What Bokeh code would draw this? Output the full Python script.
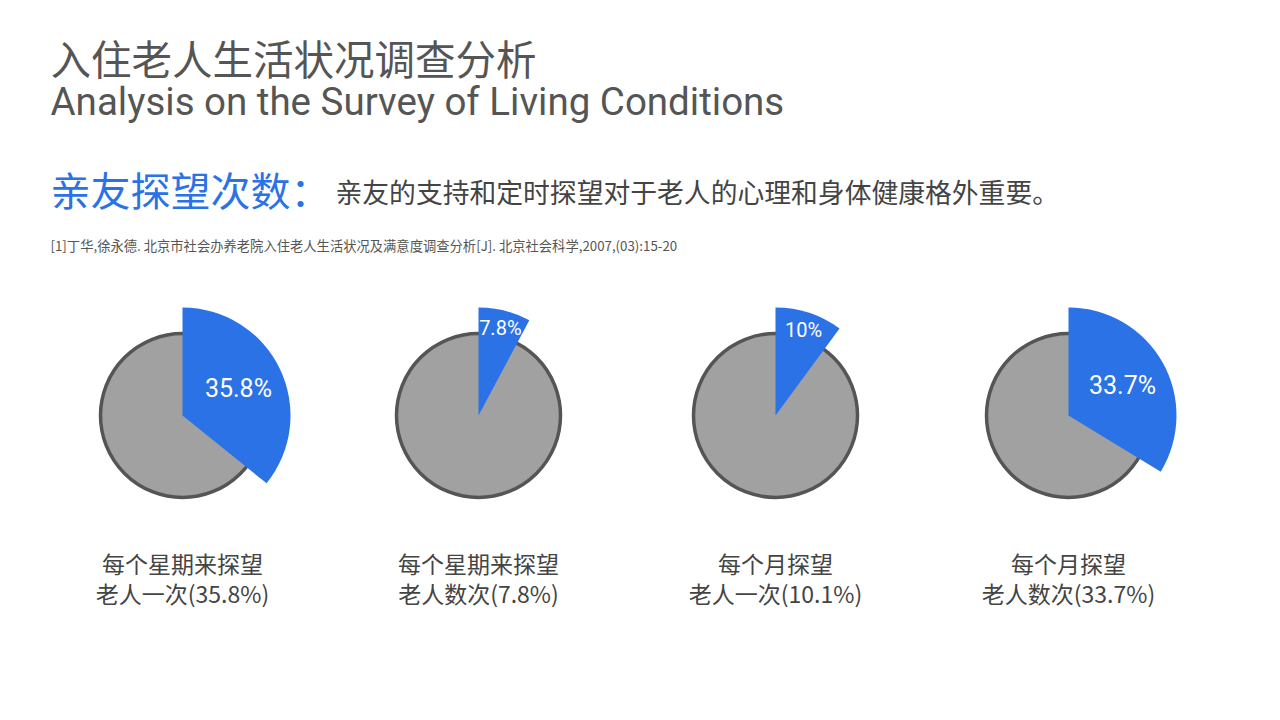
import math
from bokeh.plotting import figure
from bokeh.models import Range1d
from bokeh.core.properties import value
from bokeh.embed import file_html
from bokeh.resources import INLINE

# ---- data ----
title_cn = "入住老人生活状况调查分析"
title_en = "Analysis on the Survey of Living Conditions"
section_title = "亲友探望次数："
section_text = "亲友的支持和定时探望对于老人的心理和身体健康格外重要。"
citation = "[1]丁华,徐永德. 北京市社会办养老院入住老人生活状况及满意度调查分析[J]. 北京社会科学,2007,(03):15-20"
cat_line1 = ["每个星期来探望", "每个星期来探望", "每个月探望", "每个月探望"]
cat_line2 = ["老人一次", "老人数次", "老人一次", "老人数次"]
values = [35.8, 7.8, 10.1, 33.7]
wedge_labels = ["35.8%", "7.8%", "10%", "33.7%"]

# ---- layout ----
W, H = 1280, 720
cx = [182, 478, 775, 1068]
cy_px = 415
r_base = 82
r_wedge = 108
BLUE = "#2b72e6"
GRAY = "#a1a1a1"
EDGE = "#555555"
CJK = "Noto Sans CJK SC"

def Y(py):
    return H - py

p = figure(width=W, height=H, x_range=Range1d(0, W), y_range=Range1d(0, H),
           output_backend="svg", toolbar_location=None, min_border=0)
p.axis.visible = False
p.grid.visible = False
p.outline_line_color = None
p.background_fill_color = "white"
p.border_fill_color = "white"

cys = [Y(cy_px)] * 4
p.circle(x=cx, y=cys, radius=r_base, radius_units="data", fill_color=GRAY,
         line_color=EDGE, line_width=3.5)

starts = [math.pi / 2 - v / 100 * 2 * math.pi for v in values]
ends = [math.pi / 2] * 4
p.wedge(x=cx, y=cys, radius=r_wedge, start_angle=starts, end_angle=ends,
        direction="anticlock", fill_color=BLUE, line_color=None)

# labels inside wedges
lx, ly, lsize = [], [], []
for x0, v in zip(cx, values):
    mid = math.pi / 2 - v / 100 * math.pi
    rr = 62 if v > 20 else 90
    lx.append(x0 + rr * math.cos(mid))
    ly.append(Y(cy_px) + rr * math.sin(mid))
    lsize.append("25px" if v > 20 else "20px")
p.text(x=lx, y=ly, text=wedge_labels, text_align="center", text_baseline="middle",
       text_color="white", text_font=value("Roboto"), text_font_size=lsize)

# category labels
line2 = [f"{a}({v}%)" for a, v in zip(cat_line2, values)]
p.text(x=cx, y=[Y(562)] * 4, text=cat_line1, text_align="center", text_baseline="middle",
       text_color="#444444", text_font=value(CJK), text_font_size="23px")
p.text(x=cx, y=[Y(592)] * 4, text=line2, text_align="center", text_baseline="middle",
       text_color="#444444", text_font=value(CJK), text_font_size="23px")

# titles
p.text(x=[50], y=[Y(57)], text=[title_cn], text_baseline="middle", text_color="#555555",
       text_font=value(CJK), text_font_size="40.5px")
p.text(x=[50], y=[Y(101)], text=[title_en], text_baseline="middle", text_color="#555555",
       text_font=value("Roboto"), text_font_size="38.5px")
p.text(x=[50], y=[Y(188)], text=[section_title], text_baseline="middle", text_color=BLUE,
       text_font=value(CJK), text_font_size="40px")
p.text(x=[335], y=[Y(191)], text=[section_text], text_baseline="middle", text_color="#444444",
       text_font=value(CJK), text_font_size="26.8px")
p.text(x=[50], y=[Y(245)], text=[citation], text_baseline="middle", text_color="#555555",
       text_font=value(CJK), text_font_size="13.3px")

open("out.html", "w").write(file_html(p, INLINE))
